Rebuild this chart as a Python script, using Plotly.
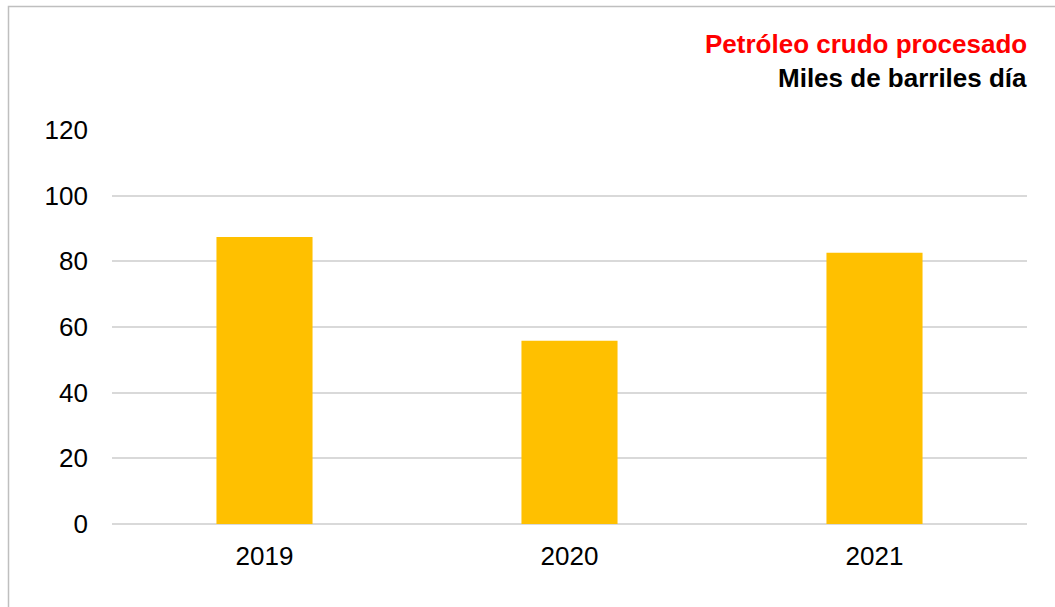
import plotly.graph_objects as go

years = ["2019", "2020", "2021"]
crudo = [87.4, 55.8, 82.6]

y_ticks = [0, 20, 40, 60, 80, 100, 120]

W, H = 1055, 607
L, R, T, B = 112, 28, 130, 83
pw, ph = W - L - R, H - T - B

fig = go.Figure()
fig.add_trace(go.Bar(
    x=years, y=crudo,
    marker=dict(color="#FFC000", line=dict(width=0)),
    width=0.315,
))

fig.update_layout(
    width=W, height=H,
    margin=dict(l=L, r=R, t=T, b=B),
    plot_bgcolor="white", paper_bgcolor="white",
    font=dict(family="Liberation Sans, Arial", size=26, color="#000000"),
    showlegend=False,
    xaxis=dict(showgrid=False, showline=False, ticks="", ticklabelstandoff=14),
    yaxis=dict(range=[0, 120], tickvals=y_ticks, showgrid=True, gridcolor="#D9D9D9",
               gridwidth=1.5, zeroline=True, zerolinecolor="#D9D9D9", zerolinewidth=1.5,
               ticks="", ticklabelstandoff=23),
)

fig.add_annotation(text="<b>Petróleo crudo procesado</b>", xref="paper", yref="paper",
                   x=1, y=(H - B - 44) / ph, xanchor="right", yanchor="middle", xshift=2,
                   showarrow=False, font=dict(size=26, color="#FF0000"))
fig.add_annotation(text="<b>Miles de barriles día</b>", xref="paper", yref="paper",
                   x=1, y=(H - B - 78) / ph, xanchor="right", yanchor="middle", xshift=2,
                   showarrow=False, font=dict(size=26, color="#000000"))

# outer border of the chart box
fig.add_shape(type="rect", xref="paper", yref="paper",
              x0=(8.5 - L) / pw, x1=1.2, y0=-0.5, y1=(H - B - 6.5) / ph,
              line=dict(color="#BFBFBF", width=1.5), layer="below")

fig.write_html("out.html", config={"displayModeBar": False},
               post_script="document.body.style.margin='0';")
